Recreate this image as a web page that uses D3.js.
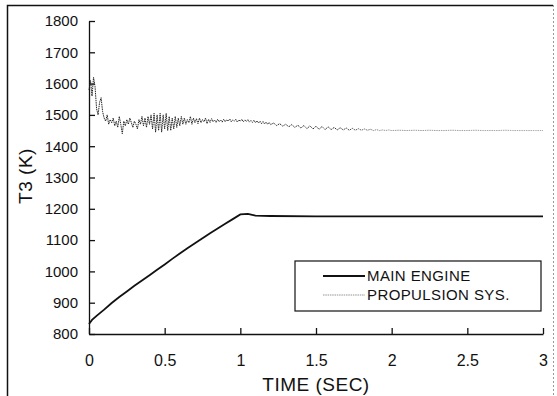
<!DOCTYPE html>
<html lang="en">
<head>
    <meta charset="UTF-8">
    <title>T3 vs Time</title>
    <script src="https://d3js.org/d3.v7.min.js"></script>
    <style>
        body { margin: 0; background: #fff; }
        svg text { font-family: "Liberation Sans", Arial, sans-serif; fill: #111; }
        .axis path, .axis line { stroke: #111; stroke-width: 1.3; }
        .y-axis text { font-size: 15px; }
        .x-axis text { font-size: 16px; }
    </style>
</head>
<body>
    <div id="chart"></div>

    <script>
        // x axis (seconds)
        const xTicks = [0, 0.5, 1, 1.5, 2, 2.5, 3];
        const xTickLabels = ["0", "0.5", "1", "1.5", "2", "2.5", "3"];
        // y axis (K)
        const yTicks = [800, 900, 1000, 1100, 1200, 1300, 1400, 1500, 1600, 1700, 1800];

        // [time, T3] main engine
        const mainEngine = [
            [0, 832], [0.02, 845], [0.05, 858], [0.1, 878], [0.15, 899], [0.2, 918],
            [0.25, 936], [0.3, 954], [0.35, 971], [0.4, 988], [0.45, 1005], [0.5, 1022],
            [0.55, 1040], [0.6, 1057], [0.65, 1074], [0.7, 1090], [0.75, 1106], [0.8, 1122],
            [0.85, 1137], [0.9, 1152], [0.95, 1167], [1.0, 1182], [1.05, 1184], [1.1, 1178],
            [1.2, 1177], [1.5, 1176], [2.0, 1176], [2.5, 1176], [3.0, 1176]
        ];

        // [time, T3] propulsion system
        const propulsion = [
            [0.00, 1580], [0.01, 1610], [0.02, 1560], [0.03, 1620], [0.04, 1590], [0.05, 1520],
            [0.06, 1500], [0.07, 1540], [0.08, 1555], [0.09, 1510], [0.10, 1490], [0.11, 1480],
            [0.12, 1500], [0.13, 1470], [0.14, 1485], [0.15, 1475], [0.16, 1490], [0.17, 1465],
            [0.18, 1480], [0.19, 1460], [0.20, 1495], [0.21, 1470], [0.22, 1440], [0.23, 1480],
            [0.24, 1465], [0.25, 1485], [0.26, 1470], [0.27, 1490], [0.28, 1475], [0.29, 1460],
            [0.30, 1480], [0.31, 1470], [0.32, 1455], [0.33, 1485], [0.34, 1470], [0.35, 1495],
            [0.36, 1465], [0.37, 1490], [0.38, 1460], [0.39, 1495], [0.40, 1470], [0.41, 1500],
            [0.42, 1455], [0.43, 1505], [0.44, 1445], [0.45, 1500], [0.46, 1450], [0.47, 1505],
            [0.48, 1445], [0.49, 1500], [0.50, 1455], [0.51, 1505], [0.52, 1450], [0.53, 1495],
            [0.54, 1450], [0.55, 1490], [0.56, 1455], [0.57, 1495], [0.58, 1460], [0.59, 1490],
            [0.60, 1465], [0.61, 1495], [0.62, 1470], [0.63, 1490], [0.64, 1470], [0.65, 1485],
            [0.66, 1475], [0.67, 1495], [0.68, 1470], [0.69, 1490], [0.70, 1475], [0.71, 1488],
            [0.72, 1472], [0.73, 1490], [0.74, 1475], [0.75, 1485], [0.76, 1478], [0.77, 1490],
            [0.78, 1472], [0.79, 1486], [0.80, 1476], [0.81, 1488], [0.82, 1478], [0.83, 1484],
            [0.84, 1476], [0.85, 1486], [0.86, 1478], [0.87, 1484], [0.88, 1477], [0.89, 1486],
            [0.90, 1478], [0.91, 1485], [0.92, 1480], [0.93, 1487], [0.94, 1478], [0.95, 1484],
            [0.96, 1480], [0.97, 1486], [0.98, 1477], [0.99, 1484], [1.00, 1480], [1.01, 1486],
            [1.02, 1478], [1.03, 1484], [1.04, 1479], [1.05, 1485], [1.06, 1477], [1.07, 1482],
            [1.08, 1476], [1.09, 1483], [1.10, 1475], [1.11, 1481], [1.12, 1474], [1.13, 1480],
            [1.14, 1472], [1.15, 1479], [1.16, 1471], [1.17, 1477], [1.18, 1470], [1.19, 1476],
            [1.20, 1469], [1.22, 1474], [1.24, 1466], [1.26, 1472], [1.28, 1464], [1.30, 1470],
            [1.32, 1462], [1.34, 1469], [1.36, 1460], [1.38, 1467], [1.40, 1458], [1.42, 1466],
            [1.44, 1456], [1.46, 1465], [1.48, 1455], [1.50, 1464], [1.52, 1454], [1.54, 1463],
            [1.56, 1453], [1.58, 1462], [1.60, 1453], [1.62, 1460], [1.64, 1452], [1.66, 1459],
            [1.68, 1452], [1.70, 1458], [1.72, 1451], [1.74, 1457], [1.76, 1451], [1.78, 1456],
            [1.80, 1451], [1.82, 1455], [1.84, 1451], [1.86, 1454], [1.88, 1450], [1.90, 1453],
            [1.92, 1450], [1.94, 1452], [1.96, 1450], [1.98, 1452], [2.00, 1450], [2.05, 1451],
            [2.10, 1450], [2.15, 1451], [2.20, 1450], [2.25, 1451], [2.30, 1450], [2.35, 1450],
            [2.40, 1451], [2.45, 1450], [2.50, 1450], [2.55, 1451], [2.60, 1450], [2.65, 1450],
            [2.70, 1450], [2.75, 1451], [2.80, 1450], [2.85, 1450], [2.90, 1450], [2.95, 1450],
            [3.00, 1450]
        ];

        const seriesNames = ["MAIN ENGINE", "PROPULSION SYS."];

        const W = 557, H = 396;
        const margin = {top: 21, right: 14, bottom: 62, left: 89};
        const width = W - margin.left - margin.right;
        const height = H - margin.top - margin.bottom;

        const svg = d3.select("#chart").append("svg")
            .attr("width", W)
            .attr("height", H);

        // outer frame (left + top solid, right faint dashed)
        svg.append("path")
            .attr("d", `M7.5,${H} L7.5,5.5 L553,5.5`)
            .attr("fill", "none")
            .attr("stroke", "#111")
            .attr("stroke-width", 1.5);
        svg.append("line")
            .attr("x1", 553.5).attr("y1", 5).attr("x2", 553.5).attr("y2", H)
            .attr("stroke", "#999")
            .attr("stroke-width", 1)
            .attr("stroke-dasharray", "2,2");

        const g = svg.append("g")
            .attr("transform", `translate(${margin.left},${margin.top})`);

        const x = d3.scaleLinear().domain([0, 3]).range([0, width]);
        const y = d3.scaleLinear().domain([800, 1800]).range([height, 0]);

        g.append("g")
            .attr("class", "axis x-axis")
            .attr("transform", `translate(0,${height})`)
            .call(d3.axisBottom(x)
                .tickValues(xTicks)
                .tickFormat((d, i) => xTickLabels[i])
                .tickSize(-6)
                .tickSizeOuter(0)
                .tickPadding(21));

        g.append("g")
            .attr("class", "axis y-axis")
            .call(d3.axisLeft(y)
                .tickValues(yTicks)
                .tickFormat(d3.format("d"))
                .tickSize(-6)
                .tickSizeOuter(0)
                .tickPadding(11));

        // axis titles
        svg.append("text")
            .attr("x", 316)
            .attr("y", 391)
            .attr("text-anchor", "middle")
            .style("font-size", "19px")
            .style("letter-spacing", "0.5px")
            .text("TIME (SEC)");

        svg.append("text")
            .attr("transform", "translate(32,176) rotate(-90)")
            .attr("text-anchor", "middle")
            .style("font-size", "19px")
            .style("letter-spacing", "0.5px")
            .text("T3 (K)");

        // propulsion trace: dark while noisy, faint once settled
        const grad = svg.append("defs").append("linearGradient")
            .attr("id", "propFade")
            .attr("gradientUnits", "userSpaceOnUse")
            .attr("x1", x(0)).attr("x2", x(3))
            .attr("y1", 0).attr("y2", 0);
        grad.append("stop").attr("offset", 0).attr("stop-color", "#222");
        grad.append("stop").attr("offset", 0.55).attr("stop-color", "#333");
        grad.append("stop").attr("offset", 0.65).attr("stop-color", "#999");
        grad.append("stop").attr("offset", 1).attr("stop-color", "#aaa");

        const line = d3.line()
            .x(d => x(d[0]))
            .y(d => y(d[1]));

        g.append("path")
            .datum(propulsion)
            .attr("fill", "none")
            .attr("stroke", "url(#propFade)")
            .attr("stroke-width", 1)
            .attr("stroke-dasharray", "1.5,0.8")
            .attr("d", line);

        g.append("path")
            .datum(mainEngine)
            .attr("fill", "none")
            .attr("stroke", "#111")
            .attr("stroke-width", 1.8)
            .attr("d", line);

        // legend
        const legend = svg.append("g").attr("transform", "translate(295,261)");
        legend.append("rect")
            .attr("width", 246)
            .attr("height", 50)
            .attr("fill", "#fff")
            .attr("stroke", "#111")
            .attr("stroke-width", 1.2);

        const legendStyles = [
            {stroke: "#111", width: 1.8, dash: null},
            {stroke: "#888", width: 0.9, dash: "1.5,0.8"}
        ];
        seriesNames.forEach((name, i) => {
            const row = legend.append("g").attr("transform", `translate(0,${15 + i * 19})`);
            row.append("line")
                .attr("x1", 28).attr("x2", 70)
                .attr("stroke", legendStyles[i].stroke)
                .attr("stroke-width", legendStyles[i].width)
                .attr("stroke-dasharray", legendStyles[i].dash);
            row.append("text")
                .attr("x", 72)
                .attr("dy", "0.35em")
                .style("font-size", "15px")
                .style("letter-spacing", "0.4px")
                .text(name);
        });
    </script>
</body>
</html>
